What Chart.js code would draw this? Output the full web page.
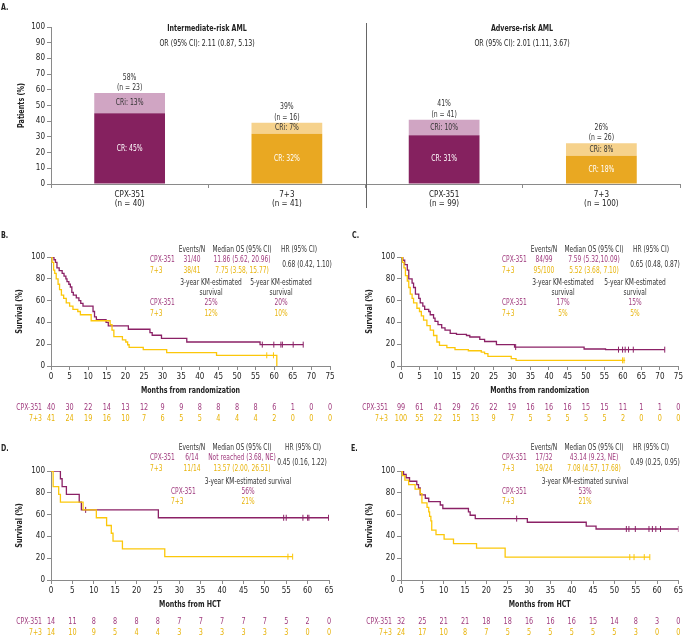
<!DOCTYPE html>
<html>
<head>
<meta charset="utf-8">
<script src="https://cdn.jsdelivr.net/npm/chart.js@4.4.1/dist/chart.umd.min.js"></script>
<style>
  body { margin: 0; width: 685px; height: 637px; position: relative; overflow: hidden; background: #fff;
         font-family: 'Liberation Sans Narrow', 'Arial Narrow', 'DejaVu Sans Condensed', sans-serif; }
  canvas { position: absolute; }
  .t { position: absolute; font-size: 8px; line-height: 1; white-space: nowrap; color: #333; }
</style>
</head>
<body>
<canvas id="chartA" width="685" height="215" style="left:0px;top:0px"></canvas>
<canvas id="chartB" width="340" height="195" style="left:0px;top:232px"></canvas>
<canvas id="chartC" width="335" height="195" style="left:350px;top:232px"></canvas>
<canvas id="chartD" width="340" height="197" style="left:0px;top:440px"></canvas>
<canvas id="chartE" width="335" height="197" style="left:350px;top:440px"></canvas>
<script>
// ---- panel A: response rates ----
const armLabels = [['CPX-351', '(n = 40)'], ['7+3', '(n = 41)'], ['CPX-351', '(n = 99)'], ['7+3', '(n = 100)']];
const crValues = [45, 32, 31, 18];
const criValues = [13, 7, 10, 8];
const respN = ['(n = 23)', '(n = 16)', '(n = 41)', '(n = 26)'];

// ---- panel B: intermediate-risk OS ----
const bCpxT = [0, 0.8, 1.2, 1.6, 2.2, 3.0, 3.5, 4.0, 4.3, 4.8, 5.2, 5.6, 6.0, 6.8, 7.5, 8.0, 8.6, 11.3, 11.7, 12.2, 14.8, 15.4, 20.8, 26.6, 27.2, 29.7, 36.5, 56.2, 67.8];
const bCpxS = [100, 97.5, 95, 90, 87.5, 85, 82.5, 80, 77.5, 75, 72.5, 67.5, 65, 62.5, 60, 57.5, 55, 50, 45, 42.5, 40, 36.8, 33.7, 30.6, 28.2, 25.4, 22, 19.6, 19.6];
const bCpxCens = [56.8, 59.9, 61.8, 62.2, 65.1, 67.8];
const bYelT = [0, 0.3, 0.7, 1.0, 1.4, 1.9, 2.3, 2.8, 3.4, 4.1, 5.0, 5.9, 7.2, 7.9, 10.8, 15.9, 16.4, 16.9, 19.2, 20.1, 20.6, 21.0, 24.8, 31.1, 44.5, 60.7, 60.7];
const bYelS = [100, 95, 88, 85, 80, 75, 70, 65, 62, 58, 55, 52, 50, 47, 41.5, 38, 33, 27, 24, 22, 19.5, 17, 15, 12.2, 9.8, 9.8, 0];
const bYelCens = [58.0, 59.8];
const bRiskCpx = [40, 30, 22, 14, 13, 12, 9, 9, 8, 8, 8, 8, 6, 1, 0, 0];
const bRiskYel = [41, 24, 19, 16, 10, 7, 6, 5, 5, 4, 4, 4, 2, 0, 0, 0];

// ---- panel C: adverse-risk OS ----
const cCpxT = [0, 0.5, 1.0, 1.7, 2.1, 3.0, 3.4, 3.9, 4.8, 5.2, 5.9, 6.4, 7.5, 7.9, 8.8, 9.2, 10.0, 11.0, 11.9, 13.3, 15.0, 17.7, 18.6, 21.3, 22.6, 25.8, 30.7, 49.5, 55.3, 71.3];
const cCpxS = [100, 97, 93, 88, 80, 76, 72, 66, 62, 58, 55, 52, 50, 47, 44, 41, 38, 35, 33, 30, 29, 28, 26.6, 24.5, 22.5, 19.6, 17.4, 15.6, 15, 15];
const cCpxCens = [31.0, 58.8, 59.9, 60.6, 61.5, 62.8, 71.3];
const cYelT = [0, 0.4, 0.8, 1.2, 1.7, 2.1, 2.5, 3.0, 3.4, 4.3, 5.0, 5.5, 6.1, 7.0, 7.9, 8.8, 9.7, 10.4, 12.4, 14.6, 18.2, 21.7, 22.6, 23.5, 29.8, 31.1, 60.6];
const cYelS = [100, 95, 90, 83, 78, 72, 66, 62, 58, 53, 50, 46, 42, 37, 33, 28, 22, 19, 16.8, 15, 14, 12.8, 11.3, 8.8, 6.7, 5.2, 5.2];
const cYelCens = [59.9, 60.3];
const cRiskCpx = [99, 61, 41, 29, 26, 22, 19, 16, 16, 16, 15, 15, 11, 1, 1, 0];
const cRiskYel = [100, 55, 22, 15, 13, 9, 7, 5, 5, 5, 5, 5, 2, 0, 0, 0];

// ---- panel D: intermediate-risk post-HCT ----
const dCpxT = [0, 2.2, 2.6, 3.6, 6.6, 7.1, 25.1, 64.9];
const dCpxS = [100, 92.9, 85.7, 78.6, 71.4, 64.3, 57.1, 57.1];
const dCpxCens = [8.1, 54.4, 55.0, 58.9, 60.0, 60.3, 64.9];
const dYelT = [0, 0.5, 1.8, 2.2, 7.5, 10.6, 13.0, 14.1, 14.5, 16.7, 26.6, 56.5];
const dYelS = [100, 85.7, 78.6, 71.4, 64.3, 57.1, 50, 42.9, 35.7, 28.6, 21.4, 21.4];
const dYelCens = [55.4, 56.5];
const dRiskCpx = [14, 11, 8, 8, 8, 8, 7, 7, 7, 7, 7, 5, 2, 0];
const dRiskYel = [14, 10, 9, 5, 4, 4, 3, 3, 3, 3, 3, 3, 0, 0];

// ---- panel E: adverse-risk post-HCT ----
const eCpxT = [0, 0.6, 1.2, 2.0, 3.7, 4.1, 4.5, 5.7, 6.5, 9.2, 9.8, 15.8, 16.2, 17.4, 29.6, 43.4, 45.7, 65];
const eCpxS = [100, 96.9, 93.8, 90.6, 87.5, 84.4, 78.1, 75, 71.9, 68.8, 65.6, 62.5, 59.4, 56.3, 53, 49.5, 46.8, 46.8];
const eCpxCens = [27.1, 52.8, 53.4, 54.9, 58.1, 58.9, 59.7, 60.8, 65];
const eYelT = [0, 0.3, 0.9, 1.8, 3.3, 4.5, 4.9, 6.1, 6.5, 6.7, 7.0, 7.2, 8.2, 10.1, 12.3, 17.7, 24.4, 58.3];
const eYelS = [100, 95.8, 91.7, 87.5, 83.3, 79.2, 70.8, 66.7, 62.5, 58.3, 54.2, 45.8, 41.7, 37.5, 33.3, 29.2, 21, 21];
const eYelCens = [53.6, 54.6, 57.0, 58.3];
const eRiskCpx = [32, 25, 21, 21, 18, 18, 16, 16, 16, 15, 14, 8, 3, 0];
const eRiskYel = [24, 17, 10, 8, 7, 5, 5, 5, 5, 5, 5, 3, 0, 0];

const FONT = "'Liberation Sans Narrow', 'Arial Narrow', 'DejaVu Sans Condensed', sans-serif";
const AXIS = '#8a8a8a';
const PURPLE = '#8b2166', YELLOW = '#fcc70a';
const PURPLE_TXT = '#a03b7e', YELLOW_TXT = '#e8b40c';

Chart.defaults.font.family = FONT;
Chart.defaults.font.size = 8;
Chart.defaults.color = '#222';

// html text, squeezed horizontally to mimic the condensed face of the original
function put(x, y, text, color, opts = {}) {
    const d = document.createElement('div');
    const sx = opts.bold ? 0.78 : 0.82;
    d.className = 't';
    d.textContent = text;
    d.style.left = x + 'px';
    d.style.top = y + 'px';
    if (color) d.style.color = color;
    if (opts.left) {
        d.style.transformOrigin = '0 50%';
        d.style.transform = `translate(0, -50%) scaleX(${sx})`;
    } else {
        d.style.transform = `translate(-50%, -50%) scaleX(${sx})`;
    }
    if (opts.bold) d.style.fontWeight = 'bold';
    if (opts.size) d.style.fontSize = opts.size + 'px';
    document.body.appendChild(d);
}

// canvas text with the same squeeze
function squeeze(ctx, text, x, y, sx, rot) {
    ctx.save();
    ctx.translate(x, y);
    if (rot) ctx.rotate(rot);
    ctx.scale(sx, 1);
    ctx.fillText(text, 0, 0);
    ctx.restore();
}

// step curve points + censor ticks sitting on the curve
const toPoints = (ts, ss) => ts.map((t, i) => ({ x: t, y: ss[i] }));
function survAt(ts, ss, t) {
    let s = ss[0];
    for (let i = 0; i < ts.length; i++) if (ts[i] <= t && ss[i] > 0) s = ss[i];
    return s;
}
const censorPoints = (ts, ss, cs) => cs.map(c => ({ x: c, y: survAt(ts, ss, c) }));

const axisTitlePlugin = {
    id: 'axisTitles',
    afterDraw(chart, args, opts) {
        const { ctx, chartArea } = chart;
        ctx.save();
        ctx.font = 'bold 9px ' + FONT;
        ctx.fillStyle = '#222';
        ctx.textAlign = 'center';
        ctx.textBaseline = 'middle';
        if (opts.x) squeeze(ctx, opts.x, (chartArea.left + chartArea.right) / 2, opts.xY, 0.78);
        if (opts.y) squeeze(ctx, opts.y, opts.yX, (chartArea.top + chartArea.bottom) / 2, 0.8, -Math.PI / 2);
        ctx.restore();
    }
};

const atRiskPlugin = {
    id: 'atRisk',
    afterDraw(chart, args, opts) {
        const { ctx, scales: { x } } = chart;
        ctx.save();
        ctx.font = '8px ' + FONT;
        ctx.textBaseline = 'middle';
        opts.rows.forEach(row => {
            ctx.fillStyle = row.color;
            ctx.textAlign = 'right';
            squeeze(ctx, row.label, x.left - opts.gap, row.y, 0.85);
            ctx.textAlign = 'center';
            row.values.forEach((v, i) => squeeze(ctx, String(v), x.getPixelForValue(i * 5), row.y, 0.9));
        });
        ctx.restore();
    }
};

const barTextPlugin = {
    id: 'barText',
    afterDraw(chart) {
        const { ctx, scales: { x } } = chart;
        const crBars = chart.getDatasetMeta(0).data;
        const criBars = chart.getDatasetMeta(1).data;
        ctx.save();
        // divider between the two risk groups
        const mid = Math.round((x.getPixelForValue(1) + x.getPixelForValue(2)) / 2) + 0.5;
        ctx.strokeStyle = '#666';
        ctx.lineWidth = 1;
        ctx.beginPath();
        ctx.moveTo(mid, 23);
        ctx.lineTo(mid, 208);
        ctx.stroke();

        ctx.font = '8px ' + FONT;
        ctx.textAlign = 'center';
        ctx.textBaseline = 'middle';
        crBars.forEach((bar, i) => {
            const cri = criBars[i];
            ctx.fillStyle = '#fff';
            squeeze(ctx, 'CR: ' + crValues[i] + '%', bar.x, (bar.y + bar.base) / 2, 0.85);
            ctx.fillStyle = '#333';
            squeeze(ctx, 'CRi: ' + criValues[i] + '%', cri.x, (cri.y + cri.base) / 2, 0.85);
            squeeze(ctx, (crValues[i] + criValues[i]) + '%', cri.x, cri.y - 15.5, 0.85);
            squeeze(ctx, respN[i], cri.x, cri.y - 5, 0.85);
        });
        ctx.restore();
    }
};

const axisGrid = { drawOnChartArea: false, drawTicks: true, tickLength: 4, color: AXIS };

new Chart(document.getElementById('chartA'), {
    type: 'bar',
    data: {
        labels: armLabels,
        datasets: [
            { label: 'CR', data: crValues, backgroundColor: ['#85215f', '#e9a822', '#85215f', '#e9a822'], barPercentage: 0.45, categoryPercentage: 1 },
            { label: 'CRi', data: criValues, backgroundColor: ['#d0a5c3', '#f6d28c', '#d0a5c3', '#f6d28c'], barPercentage: 0.45, categoryPercentage: 1 }
        ]
    },
    options: {
        responsive: false,
        animation: false,
        layout: { padding: { top: 27, right: 5, left: 0, bottom: 0 } },
        plugins: { legend: { display: false }, tooltip: { enabled: false }, axisTitles: { y: 'Patients (%)', yX: 22 } },
        scales: {
            x: {
                stacked: true,
                grid: { ...axisGrid, offset: true },
                border: { color: AXIS },
                ticks: { padding: 2, color: '#222' },
                afterFit: s => { s.height = 31; }
            },
            y: {
                stacked: true, min: 0, max: 100,
                ticks: { stepSize: 10, padding: 2 },
                grid: axisGrid,
                border: { color: AXIS },
                afterFit: s => { s.width = 51; }
            }
        }
    },
    plugins: [barTextPlugin, axisTitlePlugin]
});

function kmChart(id, p) {
    return new Chart(document.getElementById(id), {
        type: 'line',
        data: {
            datasets: [
                { data: toPoints(p.yelT, p.yelS), borderColor: YELLOW, borderWidth: 1.3, stepped: true, pointRadius: 0, fill: false },
                { data: censorPoints(p.yelT, p.yelS, p.yelC), showLine: false, pointStyle: 'line', pointRotation: 90, pointRadius: 3, pointBorderColor: YELLOW, pointBorderWidth: 1 },
                { data: toPoints(p.cpxT, p.cpxS), borderColor: PURPLE, borderWidth: 1.3, stepped: true, pointRadius: 0, fill: false },
                { data: censorPoints(p.cpxT, p.cpxS, p.cpxC), showLine: false, pointStyle: 'line', pointRotation: 90, pointRadius: 3, pointBorderColor: PURPLE, pointBorderWidth: 1 }
            ]
        },
        options: {
            responsive: false,
            animation: false,
            layout: { padding: p.padding },
            plugins: {
                legend: { display: false },
                tooltip: { enabled: false },
                axisTitles: { x: p.xTitle, xY: p.titleY, y: 'Survival (%)', yX: 20 },
                atRisk: {
                    gap: p.gap,
                    rows: [
                        { label: 'CPX-351', values: p.riskCpx, color: PURPLE_TXT, y: p.riskY[0] },
                        { label: '7+3', values: p.riskYel, color: YELLOW_TXT, y: p.riskY[1] }
                    ]
                }
            },
            scales: {
                x: {
                    type: 'linear', min: 0, max: p.xMax,
                    ticks: { stepSize: 5, padding: 2 },
                    grid: axisGrid,
                    border: { color: AXIS },
                    afterFit: s => { s.height = 31; }
                },
                y: {
                    min: 0, max: 100,
                    ticks: { stepSize: 20, padding: 2 },
                    grid: axisGrid,
                    border: { color: AXIS },
                    afterFit: s => { s.width = 51; }
                }
            }
        },
        plugins: [atRiskPlugin, axisTitlePlugin]
    });
}

kmChart('chartB', {
    cpxT: bCpxT, cpxS: bCpxS, cpxC: bCpxCens, yelT: bYelT, yelS: bYelS, yelC: bYelCens,
    riskCpx: bRiskCpx, riskYel: bRiskYel, riskY: [176, 187], gap: 9, titleY: 159,
    xMax: 75, xTitle: 'Months from randomization', padding: { top: 25, right: 10, left: 0, bottom: 30 }
});
kmChart('chartC', {
    cpxT: cCpxT, cpxS: cCpxS, cpxC: cCpxCens, yelT: cYelT, yelS: cYelS, yelC: cYelCens,
    riskCpx: cRiskCpx, riskYel: cRiskYel, riskY: [176, 187], gap: 13, titleY: 159,
    xMax: 75, xTitle: 'Months from randomization', padding: { top: 25, right: 5, left: 0, bottom: 30 }
});
kmChart('chartD', {
    cpxT: dCpxT, cpxS: dCpxS, cpxC: dCpxCens, yelT: dYelT, yelS: dYelS, yelC: dYelCens,
    riskCpx: dRiskCpx, riskYel: dRiskYel, riskY: [182, 193], gap: 9, titleY: 165,
    xMax: 65, xTitle: 'Months from HCT', padding: { top: 31, right: 11, left: 0, bottom: 26 }
});
kmChart('chartE', {
    cpxT: eCpxT, cpxS: eCpxS, cpxC: eCpxCens, yelT: eYelT, yelS: eYelS, yelC: eYelCens,
    riskCpx: eRiskCpx, riskYel: eRiskYel, riskY: [182, 193], gap: 9, titleY: 165,
    xMax: 65, xTitle: 'Months from HCT', padding: { top: 31, right: 5, left: 0, bottom: 26 }
});

// ---- text blocks ----
put(1, 7, 'A.', '#222', { bold: true, size: 9, left: true });
put(207, 28, 'Intermediate-risk AML', '#222', { bold: true, size: 9 });
put(207, 43, 'OR (95% CI): 2.11 (0.87, 5.13)', '#222', { size: 8.5 });
put(522, 28, 'Adverse-risk AML', '#222', { bold: true, size: 9 });
put(522, 43, 'OR (95% CI): 2.01 (1.11, 3.67)', '#222', { size: 8.5 });

put(1, 235, 'B.', '#222', { bold: true, size: 9, left: true });
put(352, 235, 'C.', '#222', { bold: true, size: 9, left: true });
put(1, 448, 'D.', '#222', { bold: true, size: 9, left: true });
put(351, 448, 'E.', '#222', { bold: true, size: 9, left: true });

// OS tables for B and C
function osTable(c, events, median, hr, y3, y5) {
    put(c.ev, 250, 'Events/N');
    put(c.med, 250, 'Median OS (95% CI)');
    put(c.hrHead, 250, 'HR (95% CI)');
    put(c.lab, 259.5, 'CPX-351', PURPLE_TXT, { left: true });
    put(c.ev, 259.5, events[0], PURPLE_TXT);
    put(c.med, 259.5, median[0], PURPLE_TXT);
    put(c.lab, 271, '7+3', YELLOW_TXT, { left: true });
    put(c.ev, 271, events[1], YELLOW_TXT);
    put(c.med, 271, median[1], YELLOW_TXT);
    put(c.hr, 265, hr);
    put(c.y3, 283, '3-year KM-estimated');
    put(c.y3, 293, 'survival');
    put(c.y5, 283, '5-year KM-estimated');
    put(c.y5, 293, 'survival');
    put(c.lab, 303, 'CPX-351', PURPLE_TXT, { left: true });
    put(c.y3, 303, y3[0], PURPLE_TXT);
    put(c.y5, 303, y5[0], PURPLE_TXT);
    put(c.lab, 314, '7+3', YELLOW_TXT, { left: true });
    put(c.y3, 314, y3[1], YELLOW_TXT);
    put(c.y5, 314, y5[1], YELLOW_TXT);
}
osTable({ lab: 150, ev: 192, med: 242, hrHead: 299, hr: 307, y3: 211, y5: 281 },
    ['31/40', '38/41'], ['11.86 (5.62, 20.96)', '7.75 (3.58, 15.77)'], '0.68 (0.42, 1.10)', ['25%', '12%'], ['20%', '10%']);
osTable({ lab: 502, ev: 544, med: 594, hrHead: 651, hr: 655, y3: 563, y5: 635 },
    ['84/99', '95/100'], ['7.59 (5.32,10.09)', '5.52 (3.68, 7.10)'], '0.65 (0.48, 0.87)', ['17%', '5%'], ['15%', '5%']);

// post-HCT tables for D and E
function hctTable(c, events, median, hr, y3) {
    put(c.ev, 448, 'Events/N');
    put(c.med, 448, 'Median OS (95% CI)');
    put(c.hrHead, 448, 'HR (95% CI)');
    put(c.lab, 458, 'CPX-351', PURPLE_TXT, { left: true });
    put(c.ev, 458, events[0], PURPLE_TXT);
    put(c.med, 458, median[0], PURPLE_TXT);
    put(c.lab, 469, '7+3', YELLOW_TXT, { left: true });
    put(c.ev, 469, events[1], YELLOW_TXT);
    put(c.med, 469, median[1], YELLOW_TXT);
    put(c.hr, 463, hr);
    put(c.y3, 482, '3-year KM-estimated survival');
    put(c.lab2, 492, 'CPX-351', PURPLE_TXT, { left: true });
    put(c.y3, 492, y3[0], PURPLE_TXT);
    put(c.lab2, 502, '7+3', YELLOW_TXT, { left: true });
    put(c.y3, 502, y3[1], YELLOW_TXT);
}
hctTable({ lab: 150, lab2: 171, ev: 192, med: 242, hrHead: 303, hr: 302, y3: 248 },
    ['6/14', '11/14'], ['Not reached (3.68, NE)', '13.57 (2.00, 26.51)'], '0.45 (0.16, 1.22)', ['56%', '21%']);
hctTable({ lab: 502, lab2: 502, ev: 544, med: 594, hrHead: 651, hr: 655, y3: 585 },
    ['17/32', '19/24'], ['43.14 (9.23, NE)', '7.08 (4.57, 17.68)'], '0.49 (0.25, 0.95)', ['53%', '21%']);
</script>
</body>
</html>
